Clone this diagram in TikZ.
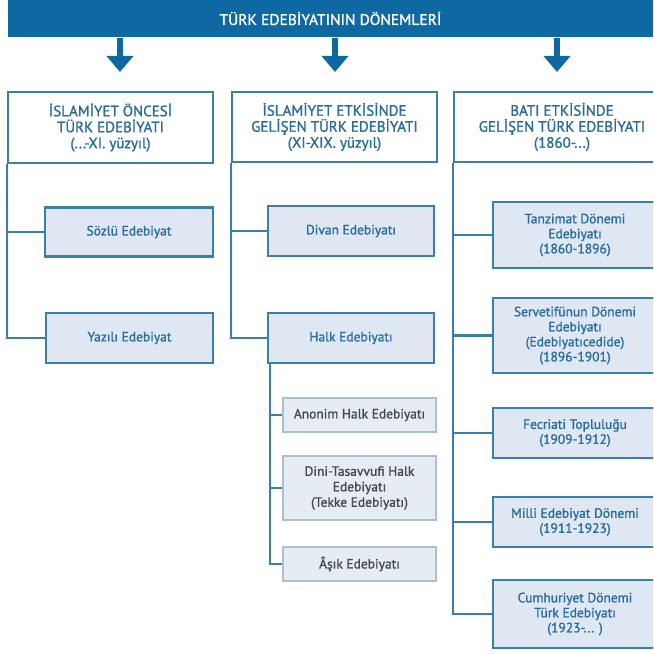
\documentclass[tikz,border=0pt]{standalone}
\usepackage{fontspec}
\setmainfont{PT Sans}[FakeBold=1.2]
\usetikzlibrary{arrows.meta}
\definecolor{barblue}{RGB}{14,104,162}
\definecolor{lineblue}{RGB}{58,128,166}
\definecolor{txtblue}{RGB}{40,108,158}
\definecolor{subfill}{RGB}{222,231,242}
\definecolor{ssborder}{RGB}{172,192,212}
\definecolor{ssfill}{RGB}{230,236,244}
\definecolor{sstext}{RGB}{72,72,72}
\tikzset{
  x=1pt, y=-1pt,
  box/.style={rectangle, inner sep=0pt, align=center, text=txtblue, line width=2.2pt, draw=lineblue,
    font=\fontsize{13.5}{15}\selectfont},
  headbox/.style={box, fill=white, font=\fontsize{15}{16}\selectfont},
  subbox/.style={box, fill=subfill},
  ssbox/.style={rectangle, inner sep=0pt, align=center, text=sstext, line width=1.4pt, draw=ssborder, fill=ssfill,
    font=\fontsize{13.5}{15.5}\selectfont},
  link/.style={draw=lineblue, line width=2.2pt},
  bigarrow/.style={draw=barblue, line width=6pt, -{Triangle[width=26pt,length=16pt]}},
}
\begin{document}
\begin{tikzpicture}
\useasboundingbox (0,0) rectangle (653,655);
\clip (0,0) rectangle (653,655);
% top bar
\node[fill=barblue, minimum width=645pt, minimum height=37pt, inner sep=0pt, text=white,
  font=\fontsize{15.5}{17}\selectfont] (bar) at (330.5,18.5) {TÜRK EDEBİYATININ DÖNEMLERİ};
% arrows
\coordinate (a1s) at (120,38); \coordinate (a1e) at (120,72);
\coordinate (a2s) at (335,38); \coordinate (a2e) at (335,72);
\coordinate (a3s) at (557,38); \coordinate (a3e) at (557,72);
\draw[bigarrow] (a1s) -- (a1e);
\draw[bigarrow] (a2s) -- (a2e);
\draw[bigarrow] (a3s) -- (a3e);
% column 1
\node[headbox, minimum width=205pt, minimum height=71pt] (h1) at (110.5,127.5)
  {İSLAMİYET ÖNCESİ\\TÜRK EDEBİYATI\\(...-XI. yüzyıl)};
\node[subbox, minimum width=168pt, minimum height=49pt] (s1) at (129,232) {Sözlü Edebiyat};
\node[subbox, minimum width=167pt, minimum height=50pt] (y1) at (129.5,338) {Yazılı Edebiyat};
\draw[link] (h1.south west) |- (y1.west);
\draw[link] (h1.south west |- s1.west) -- (s1.west);
% column 2
\node[headbox, minimum width=205pt, minimum height=70pt] (h2) at (334.5,127)
  {İSLAMİYET ETKİSİNDE\\GELİŞEN TÜRK EDEBİYATI\\(XI-XIX. yüzyıl)};
\node[subbox, minimum width=166pt, minimum height=50pt] (d2) at (351,231) {Divan Edebiyatı};
\node[subbox, minimum width=166pt, minimum height=50pt] (k2) at (351,338) {Halk Edebiyatı};
\draw[link] (h2.south west) |- (k2.west);
\draw[link] (h2.south west |- d2.west) -- (d2.west);
\node[ssbox, minimum width=153pt, minimum height=34pt] (a2) at (359.5,415) {Anonim Halk Edebiyatı};
\node[ssbox, minimum width=153pt, minimum height=64pt] (t2) at (359.5,488) {Dini-Tasavvufi Halk\\Edebiyatı\\(Tekke Edebiyatı)};
\node[ssbox, minimum width=153pt, minimum height=34pt] (s2) at (359.5,564) {Âşık Edebiyatı};
\coordinate (k2b) at (270,363);
\draw[link] (k2b) |- (s2.west);
\draw[link] (k2b |- a2.west) -- (a2.west);
\draw[link] (k2b |- t2.west) -- (t2.west);
% column 3
\node[headbox, minimum width=216pt, minimum height=70pt] (h3) at (562,127)
  {BATI ETKİSİNDE\\GELİŞEN TÜRK EDEBİYATI\\(1860-...)};
\node[subbox, minimum width=164pt, minimum height=66pt] (tz) at (575,235) {Tanzimat Dönemi\\Edebiyatı\\(1860-1896)};
\node[subbox, minimum width=164pt, minimum height=75pt] (sv) at (575,335.5) {Servetifünun Dönemi\\Edebiyatı\\(Edebiyatıcedide)\\(1896-1901)};
\node[subbox, minimum width=164pt, minimum height=50pt] (fc) at (575,433) {Fecriati Topluluğu\\(1909-1912)};
\node[subbox, minimum width=164pt, minimum height=50pt] (ml) at (575,522) {Milli Edebiyat Dönemi\\(1911-1923)};
\node[subbox, minimum width=164pt, minimum height=68pt] (cm) at (575,614) {Cumhuriyet Dönemi\\Türk Edebiyatı\\(1923-... )};
\draw[link] (h3.south west) |- (cm.west);
\draw[link] (h3.south west |- tz.west) -- (tz.west);
\draw[link] (h3.south west |- sv.west) -- (sv.west);
\draw[link] (h3.south west |- fc.west) -- (fc.west);
\draw[link] (h3.south west |- ml.west) -- (ml.west);
\end{tikzpicture}
\end{document}
